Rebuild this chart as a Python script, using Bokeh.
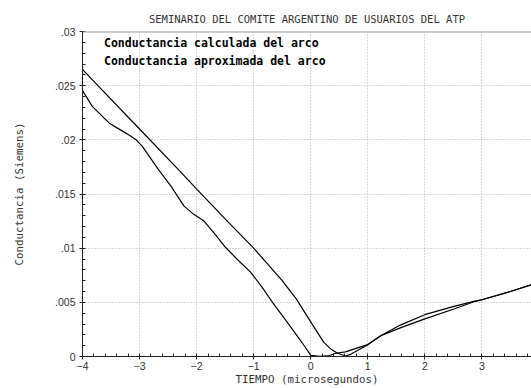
import numpy as np
from bokeh.plotting import figure
from bokeh.models import (Range1d, FixedTicker, SingleIntervalTicker, Legend,
                          LegendItem, Span)
from bokeh.embed import file_html
from bokeh.resources import INLINE

# ---- data ----
T_CALC = [-4.0, -3.73, -3.0, -2.31, -1.99, -1.5, -1.0, -0.75, -0.5, -0.25, 0.0,
          0.12, 0.23, 0.35, 0.47, 0.61, 0.7, 0.82, 1.0, 1.22, 1.57, 2.0, 2.51,
          2.86, 3.0, 3.5, 3.87]
G_CALC = [0.0265, 0.0250, 0.0210, 0.01721, 0.0154, 0.0127, 0.0100, 0.0085,
          0.0070, 0.0053, 0.0032, 0.0022, 0.0013, 0.0007, 0.0003, 0.00005,
          0.0002, 0.00055, 0.00108, 0.0019, 0.0029, 0.00386, 0.00463, 0.00509,
          0.00524, 0.0060, 0.00662]

T_APROX = [-4.0, -3.825, -3.62, -3.53, -3.24, -3.06, -2.95, -2.69, -2.45, -2.22,
           -2.05, -1.87, -1.70, -1.49, -1.29, -1.05, -0.85, -0.67, -0.5, -0.25,
           -0.1, 0.0, 0.15, 0.3, 0.44, 0.61, 0.82, 1.0, 1.22, 1.57, 2.0, 2.51,
           2.86, 3.0, 3.5, 3.87]
G_APROX = [0.02454, 0.02307, 0.0220, 0.02154, 0.02062, 0.0200, 0.01939, 0.01741,
           0.01572, 0.01388, 0.01312, 0.0125, 0.01143, 0.01006, 0.00898, 0.00776,
           0.00638, 0.0050, 0.0038, 0.0020, 0.0009, 0.0001, 0.00002, 0.00005,
           0.0003, 0.00043, 0.0008, 0.00110, 0.0019, 0.00264, 0.00347, 0.00438,
           0.00505, 0.00524, 0.0060, 0.00662]

SERIES_NAMES = ["Conductancia calculada del arco", "Conductancia aproximada del arco"]
Y_TICKS = [0.0, 0.005, 0.01, 0.015, 0.02, 0.025, 0.03]
Y_TICK_LABELS = ["0", ".005", ".01", ".015", ".02", ".025", ".03"]
TITLE = "SEMINARIO DEL COMITE ARGENTINO DE USUARIOS DEL ATP"
X_LABEL = "TIEMPO (microsegundos)"
Y_LABEL = "Conductancia (Siemens)"
X_MIN, X_MAX = -4.0, 3.87
Y_MIN, Y_MAX = 0.0, 0.03

MONO = "DejaVu Sans Mono"
TICKFONT = "Liberation Sans"

p = figure(width=531, height=388, output_backend="svg", toolbar_location=None,
           x_range=Range1d(X_MIN, X_MAX), y_range=Range1d(Y_MIN, Y_MAX),
           min_border_left=82, min_border_right=0, min_border_top=31,
           min_border_bottom=30, title=TITLE)
p.outline_line_color = None
p.background_fill_color = "white"
p.border_fill_color = "white"

p.title.text_font = MONO
p.title.text_font_size = "10.5px"
p.title.text_font_style = "normal"
p.title.text_color = "#333333"
p.title.align = "center"
p.title.offset = 4
p.title.standoff = 13

r1 = p.line(T_CALC, G_CALC, line_color="black", line_width=1.2)
r2 = p.line(T_APROX, G_APROX, line_color="black", line_width=1.2)

# top border line of the frame
p.add_layout(Span(location=Y_MAX, dimension="width", line_color="#999999",
                  line_width=2))

# axes
xa = p.xaxis[0]
xa.ticker = SingleIntervalTicker(interval=1, num_minor_ticks=5)
ya = p.yaxis[0]
ya.ticker = FixedTicker(ticks=Y_TICKS,
                        minor_ticks=list(np.linspace(Y_MIN, Y_MAX, 31)))
ya.major_label_overrides = {t: l for t, l in zip(Y_TICKS, Y_TICK_LABELS)}

for ax in (xa, ya):
    ax.axis_line_color = "#222222"
    ax.axis_line_width = 1
    ax.major_tick_line_color = "#222222"
    ax.minor_tick_line_color = "#222222"
    ax.major_tick_in = 0
    ax.major_tick_out = 3
    ax.minor_tick_in = 3
    ax.minor_tick_out = 0
    ax.major_label_text_font = TICKFONT
    ax.major_label_text_font_size = "10.5px"
    ax.major_label_text_color = "#333333"
    ax.axis_label_text_font = MONO
    ax.axis_label_text_font_size = "10.8px"
    ax.axis_label_text_font_style = "normal"
    ax.axis_label_text_color = "#333333"

xa.axis_label = X_LABEL
xa.major_label_standoff = 2
xa.axis_label_standoff = 0
ya.axis_label = Y_LABEL
ya.major_label_standoff = 4
ya.axis_label_standoff = 26

p.grid.grid_line_color = "#b0b0b0"
p.grid.grid_line_dash = "1 2"
p.grid.grid_line_width = 1
p.xgrid.ticker = xa.ticker
p.ygrid.ticker = ya.ticker

legend = Legend(items=[LegendItem(label=SERIES_NAMES[0], renderers=[r1]),
                       LegendItem(label=SERIES_NAMES[1], renderers=[r2])],
                location="top_left")
legend.glyph_width = 0
legend.glyph_height = 16
legend.label_height = 16
legend.label_standoff = 18
legend.spacing = 2
legend.padding = 4
legend.margin = 4
legend.border_line_color = None
legend.background_fill_alpha = 0
legend.label_text_font = MONO
legend.label_text_font_size = "11.5px"
legend.label_text_font_style = "bold"
legend.label_text_color = "black"
legend.click_policy = "none"
p.add_layout(legend)

open("out.html", "w").write(file_html(p, INLINE))
